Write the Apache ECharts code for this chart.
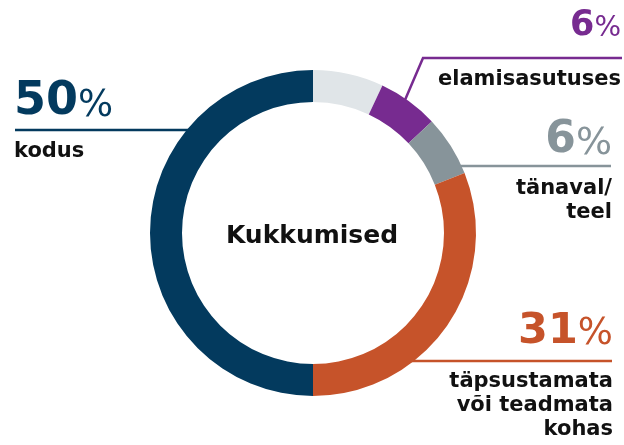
<!DOCTYPE html>
<html>
<head>
<meta charset="utf-8">
<script src="https://cdn.jsdelivr.net/npm/echarts@6/dist/echarts.min.js"></script>
<style>
html,body{margin:0;padding:0;background:#fff;}
#c{width:624px;height:445px;}
</style>
</head>
<body>
<div id="c"></div>
<script>
// Data (clockwise from 12 o'clock)
const categories = ['muu', 'elamisasutuses', 'tänaval/\nteel', 'täpsustamata\nvõi teadmata\nkohas', 'kodus'];
const values = [7, 6, 6, 31, 50];
const colors = ['#e0e5e8', '#772b90', '#87949a', '#c6532a', '#033a5e'];
const centerTitle = 'Kukkumised';
const labelled = [1, 2, 3, 4]; // indices that get an outside label

// Layout for the outside labels (positions only)
const layout = {
  1: { align: 'right', x: 621, pctY: 43, pctSize: 35, pSize: 28, textY: 92,
       line: [[622, 58], [423, 58], [405, 100]] },
  2: { align: 'right', x: 612, pctY: 163, pctSize: 44, pSize: 38, textY: 225,
       line: [[611, 166], [455, 166]] },
  3: { align: 'right', x: 613, pctY: 353, pctSize: 43, pSize: 37, textY: 442,
       line: [[612, 361], [410, 361]] },
  4: { align: 'left', x: 14, pctY: 125, pctSize: 46, pSize: 37, textY: 164,
       line: [[15, 130], [192, 130]] }
};

const FONT = '"DejaVu Sans", sans-serif';
const graphics = [];
labelled.forEach(function (i) {
  const L = layout[i];
  graphics.push({
    type: 'polyline', z: 0,
    shape: { points: L.line },
    style: { stroke: colors[i], lineWidth: 2.5, fill: null }
  });
  graphics.push({
    type: 'text', z: 5,
    style: {
      text: '{n|' + values[i] + '}{p|%}',
      x: L.x, y: L.pctY, align: L.align, verticalAlign: 'bottom',
      rich: {
        n: { fontFamily: FONT, fontSize: L.pctSize, fontWeight: 'bold',
             fill: colors[i], lineHeight: L.pctSize, verticalAlign: 'bottom' },
        p: { fontFamily: FONT, fontSize: L.pSize, fontWeight: 'normal',
             fill: colors[i], lineHeight: L.pSize, verticalAlign: 'bottom' }
      }
    }
  });
  graphics.push({
    type: 'text', z: 5,
    style: {
      text: categories[i],
      x: L.x, y: L.textY, align: L.align, verticalAlign: 'bottom',
      fontFamily: FONT, fontSize: 21, fontWeight: 'bold', fill: '#111', lineHeight: 24
    }
  });
});
graphics.push({
  type: 'text', z: 5,
  style: {
    text: centerTitle, x: 312, y: 236, align: 'center', verticalAlign: 'middle',
    fontFamily: FONT, fontSize: 25, fontWeight: 'bold', fill: '#111'
  }
});

const chart = echarts.init(document.getElementById('c'), null, { renderer: 'canvas' });
chart.setOption({
  animation: false,
  backgroundColor: '#ffffff',
  series: [{
    type: 'pie',
    center: [313, 233],
    radius: [131, 163],
    startAngle: 90,
    clockwise: true,
    silent: true,
    label: { show: false },
    labelLine: { show: false },
    itemStyle: { borderWidth: 0 },
    data: categories.map(function (c, i) {
      return { name: c, value: values[i], itemStyle: { color: colors[i] } };
    })
  }],
  graphic: graphics
});
</script>
</body>
</html>
